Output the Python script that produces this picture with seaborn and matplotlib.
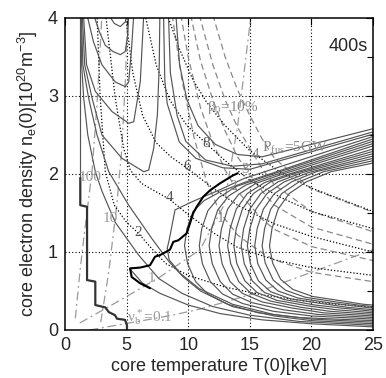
import matplotlib
matplotlib.use("Agg")
import matplotlib.pyplot as plt
from matplotlib.ticker import MultipleLocator
import seaborn as sns

# ---- operating path (thick black) -------------------------------------------
path_a_T = [1.24, 1.24, 1.79, 1.79, 2.46, 2.46, 3.27, 3.55, 4.06, 4.22, 4.87, 5.03, 5.03]
path_a_n = [1.95, 1.60, 1.58, 0.64, 0.62, 0.32, 0.29, 0.23, 0.19, 0.145, 0.13, 0.06, 0.0]
path_b_T = [6.90, 6.09, 5.41, 5.28, 6.09, 6.90, 7.31, 7.71, 8.52, 8.79, 9.20, 9.88,
            10.15, 10.41, 10.69, 11.23, 11.77, 12.58, 13.61, 14.02]
path_b_n = [0.535, 0.60, 0.68, 0.79, 0.80, 0.83, 0.94, 0.96, 1.03, 1.13, 1.15, 1.24,
            1.37, 1.50, 1.58, 1.71, 1.79, 1.88, 1.98, 2.01]

# ---- P_aux contours (solid grey) ---------------------------------------------
paux_valley = [  # low-T valley, open at the top
    ([3.55, 4.0, 4.49, 4.89, 5.03], [4.04, 3.93, 3.89, 3.95, 4.04]),
    ([2.33, 2.8, 3.27, 3.9, 4.49, 4.89, 5.1, 5.17], [4.04, 3.82, 3.65, 3.57, 3.53, 3.57, 3.8, 4.04]),
    ([1.79, 2.3, 3.0, 4.08, 4.89, 5.17, 5.4, 5.58], [4.04, 3.7, 3.40, 3.18, 3.12, 3.18, 3.6, 4.04]),
    ([1.5, 1.75, 2.46, 3.82, 5.17, 5.58, 6.11, 6.39], [4.04, 3.40, 3.06, 2.80, 2.65, 2.67, 3.18, 4.04]),
    ([1.4, 1.6, 2.2, 3.0, 4.63, 6.39, 6.79, 7.2, 7.5, 7.65, 7.7],
     [4.04, 3.4, 2.97, 2.50, 2.20, 2.03, 2.05, 2.33, 2.76, 3.4, 4.04]),
    ([1.24, 1.24], [4.04, 1.95]),
]
paux_upper = [  # come down from the top and run into the upper bundle
    ([8.0, 8.1, 8.3, 9.28, 10.63, 12.8, 15.0, 25.0], [4.04, 3.2, 2.9, 2.41, 2.2, 2.08, 2.06, 2.51]),
    ([8.4, 8.55, 9.1, 9.8, 11.4, 13.6, 16.0, 25.0], [4.04, 3.3, 2.75, 2.42, 2.18, 2.1, 2.13, 2.54]),
    ([9.0, 9.3, 9.9, 10.8, 12.2, 14.0, 16.0, 25.0], [4.04, 3.4, 2.95, 2.62, 2.38, 2.25, 2.22, 2.58]),
]
paux_lower = [  # come down the left side and run into the lower bundle
    ([1.28, 1.35, 1.52, 1.85, 2.46, 3.0, 4.08, 5.98, 7.61, 9.5, 12.0, 15.0, 19.0, 25.0],
     [4.04, 3.4, 2.97, 2.5, 2.03, 1.78, 1.38, 0.96, 0.66, 0.47, 0.30, 0.19, 0.11, 0.06]),
    ([1.33, 1.45, 1.92, 2.6, 3.55, 5.17, 7.06, 8.42, 9.6, 11.0, 13.6, 17.0, 20.0, 25.0],
     [4.04, 3.4, 2.97, 2.5, 2.03, 1.6, 1.17, 0.88, 0.68, 0.5, 0.30, 0.18, 0.12, 0.08]),
    ([5.28, 6.3, 7.71, 10.0, 12.6, 16.0, 20.0, 25.0], [0.78, 0.6, 0.47, 0.32, 0.21, 0.13, 0.08, 0.04]),
]
paux_c = [  # C-shaped contours opening to high T
    ([25, 17.0, 14.5, 12.6, 10.4, 8.93, 8.66, 8.45, 8.3, 8.45, 9.4, 10.9, 13.6, 16.9, 20.0, 25],
     [2.48, 2.07, 1.94, 1.8, 1.65, 1.54, 1.32, 1.15, 1.05, 0.9, 0.72, 0.53, 0.33, 0.2, 0.14, 0.10]),
    ([25, 17.0, 14.7, 12.7, 11.3, 10.4, 9.9, 9.7, 9.95, 10.6, 11.6, 13.2, 15.7, 19.0, 25],
     [2.45, 2.02, 1.9, 1.78, 1.66, 1.52, 1.3, 1.08, 0.85, 0.62, 0.46, 0.33, 0.22, 0.16, 0.12]),
    ([25, 15.9, 13.9, 12.5, 11.6, 11.1, 10.9, 11.15, 11.8, 12.8, 14.4, 16.9, 20.0, 25],
     [2.42, 1.95, 1.84, 1.7, 1.53, 1.3, 1.08, 0.85, 0.62, 0.46, 0.34, 0.24, 0.18, 0.14]),
    ([25, 16.7, 14.7, 13.3, 12.4, 11.9, 11.7, 11.95, 12.6, 13.6, 15.2, 17.7, 20.5, 25],
     [2.39, 1.97, 1.86, 1.72, 1.54, 1.3, 1.08, 0.85, 0.62, 0.46, 0.35, 0.26, 0.2, 0.16]),
    ([25, 17.5, 15.5, 14.1, 13.2, 12.7, 12.5, 12.75, 13.4, 14.4, 16.0, 18.5, 21.0, 25],
     [2.36, 1.99, 1.88, 1.74, 1.55, 1.3, 1.08, 0.85, 0.62, 0.47, 0.36, 0.28, 0.22, 0.18]),
    ([25, 18.2, 16.2, 14.8, 13.9, 13.4, 13.2, 13.45, 14.1, 15.1, 16.7, 19.2, 21.5, 25],
     [2.32, 2.0, 1.89, 1.75, 1.55, 1.3, 1.08, 0.85, 0.62, 0.47, 0.37, 0.29, 0.24, 0.20]),
    ([25, 18.7, 16.7, 15.3, 14.4, 13.9, 13.7, 13.95, 14.6, 15.6, 17.2, 19.7, 22.0, 25],
     [2.29, 2.01, 1.9, 1.75, 1.55, 1.3, 1.08, 0.85, 0.63, 0.48, 0.38, 0.31, 0.26, 0.22]),
    ([25, 19.3, 17.3, 15.9, 15.0, 14.5, 14.3, 14.55, 15.2, 16.2, 17.8, 20.3, 22.5, 25],
     [2.26, 2.02, 1.9, 1.75, 1.55, 1.3, 1.08, 0.85, 0.63, 0.48, 0.39, 0.32, 0.28, 0.24]),
    ([25, 19.8, 17.8, 16.4, 15.5, 15.0, 14.8, 15.05, 15.7, 16.7, 18.3, 20.8, 23.0, 25],
     [2.23, 2.02, 1.9, 1.75, 1.55, 1.3, 1.08, 0.85, 0.63, 0.49, 0.4, 0.34, 0.29, 0.26]),
    ([25, 20.4, 18.4, 17.0, 16.1, 15.6, 15.4, 15.65, 16.3, 17.3, 18.9, 21.4, 23.4, 25],
     [2.20, 2.03, 1.9, 1.75, 1.55, 1.3, 1.08, 0.85, 0.64, 0.5, 0.41, 0.35, 0.31, 0.28]),
    ([25, 21.0, 19.0, 17.6, 16.7, 16.2, 16.0, 16.25, 16.9, 17.9, 19.5, 22.0, 23.8, 25],
     [2.17, 2.03, 1.9, 1.75, 1.55, 1.3, 1.08, 0.86, 0.64, 0.51, 0.42, 0.36, 0.32, 0.30]),
    ([25, 21.6, 19.6, 18.2, 17.3, 16.8, 16.6, 16.85, 17.5, 18.5, 20.1, 22.6, 24.2, 25],
     [2.14, 2.03, 1.9, 1.75, 1.55, 1.3, 1.08, 0.86, 0.65, 0.52, 0.43, 0.37, 0.33, 0.32]),
]

# ---- beta contours (black dotted), beta0 = 2, 4, 6, 8, 10 % ------------------
beta_levels = ["2", "4", "6", "8", "10"]
beta_curves = [
    ([2.6, 2.85, 3.27, 4.0, 5.0, 5.9, 7.0, 8.2, 10.0, 13.0, 16.0, 20.0, 25.0],
     [4.04, 3.0, 2.03, 1.6, 1.38, 1.25, 1.05, 0.85, 0.7, 0.55, 0.45, 0.36, 0.29]),
    ([3.3, 4.08, 4.76, 5.3, 6.2, 7.3, 8.45, 10.0, 12.0, 14.0, 17.0, 20.0, 25.0],
     [4.04, 2.97, 2.33, 2.05, 1.88, 1.78, 1.68, 1.48, 1.25, 1.06, 0.9, 0.8, 0.7]),
    ([4.9, 5.5, 6.3, 7.4, 8.6, 9.95, 12.0, 14.0, 17.0, 20.0, 25.0],
     [4.04, 3.3, 2.75, 2.4, 2.22, 2.07, 1.82, 1.6, 1.36, 1.2, 1.0]),
    ([6.5, 7.4, 8.5, 9.9, 11.4, 13.0, 15.0, 17.5, 20.0, 25.0],
     [4.04, 3.4, 2.95, 2.62, 2.4, 2.17, 1.92, 1.7, 1.52, 1.3]),
    ([8.3, 9.3, 10.4, 11.5, 13.0, 15.0, 17.5, 20.0, 25.0],
     [4.04, 3.6, 3.2, 2.92, 2.62, 2.3, 2.02, 1.82, 1.52]),
]

# ---- fusion power contours (grey dashed), 1..5 GW ---------------------------
pfus_curves = [
    ([8.7, 9.5, 10.5, 11.5, 12.6, 14.0, 15.0, 16.0, 17.0, 20.0, 25.0],
     [4.04, 3.2, 2.45, 1.9, 1.5, 1.22, 1.1, 0.99, 0.9, 0.74, 0.62]),
    ([9.4, 10.0, 11.0, 12.0, 13.0, 14.0, 15.0, 16.0, 17.0, 20.0, 25.0],
     [4.04, 3.5, 2.85, 2.4, 2.05, 1.78, 1.6, 1.42, 1.29, 1.07, 0.89]),
    ([10.2, 11.0, 12.0, 13.0, 14.0, 15.0, 16.0, 17.0, 20.0, 25.0],
     [4.04, 3.45, 2.95, 2.55, 2.22, 1.99, 1.78, 1.6, 1.32, 1.1]),
    ([10.9, 12.0, 13.0, 14.0, 15.0, 16.0, 17.0, 20.0, 25.0],
     [4.04, 3.4, 2.95, 2.6, 2.33, 2.07, 1.86, 1.52, 1.26]),
    ([12.0, 13.0, 14.0, 15.0, 16.0, 17.0, 20.0, 25.0],
     [4.04, 3.5, 3.08, 2.75, 2.45, 2.2, 1.81, 1.51]),
]

# ---- collisionality contours (grey dash-dot), nu* = 100, 10, 1, 0.1 --------
nu_curves = [
    ([0.84, 1.24, 1.52, 2.19, 2.6, 3.0], [0.15, 0.79, 1.17, 2.03, 2.9, 4.04]),
    ([2.9, 3.55, 4.2, 4.6, 4.9, 5.1], [0.1, 0.74, 1.6, 2.3, 3.2, 4.04]),
    ([1.2, 4.46, 7.71, 10.96, 12.9, 14.0, 15.1], [0.09, 0.38, 0.68, 1.03, 1.6, 2.6, 4.04]),
    ([2.0, 4.5, 7.0, 9.0, 11.0, 15.0, 20.0, 25.0], [0.0, 0.07, 0.14, 0.2, 0.27, 0.45, 0.74, 1.03]),
]

# ---- text labels --------------------------------------------------------------
beta_label_pos = [(5.9, 1.25), (8.45, 1.7), (9.95, 2.09), (11.45, 2.39)]
pfus_label_pos = [(12.6, 1.43), (13.65, 1.84), (14.6, 2.06), (15.45, 2.25)]
nu_label_txt = ["100", "10", "1"]
nu_label_pos = [(2.05, 1.96), (3.7, 1.43), (7.06, 0.66)]

sns.set_theme(style="white")
plt.rcParams["font.family"] = ["Liberation Sans", "DejaVu Sans"]
plt.rcParams["mathtext.default"] = "regular"

fig = plt.figure(figsize=(3.86, 3.78), dpi=100)
ax = fig.add_axes([65 / 386, 48 / 378, 308 / 386, 312 / 378])

SOLID = "#555555"
DASH = "#8a8a8a"
DASHDOT = "#9a9a9a"


def draw(curves, color, lw, ls):
    for T, n in curves:
        sns.lineplot(x=T, y=n, sort=False, estimator=None, color=color,
                     linewidth=lw, linestyle=ls, ax=ax)


# grid first so the curves sit on top of it
for g in [5, 10, 15, 20]:
    ax.axvline(g, color="black", lw=0.8, ls=(0, (1, 2)), zorder=0.5)
for g in [1, 2, 3]:
    ax.axhline(g, color="black", lw=0.8, ls=(0, (1, 2)), zorder=0.5)

draw(nu_curves, DASHDOT, 0.9, (0, (7, 3, 1.5, 3)))
draw(pfus_curves, DASH, 0.9, (0, (5, 3)))
draw(beta_curves, "black", 0.9, (0, (1, 1.6)))
draw(paux_valley + paux_upper + paux_lower + paux_c, SOLID, 0.85, "-")
sns.lineplot(x=path_a_T, y=path_a_n, sort=False, estimator=None, color="#333333", lw=1.6, ax=ax)
sns.lineplot(x=path_b_T, y=path_b_n, sort=False, estimator=None, color="black", lw=1.5, ax=ax)

serif = dict(family=["Liberation Serif", "DejaVu Serif"], fontsize=11)
for lab, (x, y) in zip(beta_levels, beta_label_pos):
    ax.text(x, y, lab, color="#555555", ha="center", va="center", **serif)
ax.text(13.6, 2.85, r"$\beta_0$=10%", color="#8a8a8a", ha="center", va="center", **serif)
for k, (x, y) in enumerate(pfus_label_pos):
    ax.text(x, y, str(k + 1), color="#8a8a8a", ha="center", va="center", **serif)
ax.text(16.0, 2.34, r"$P_{fus}$=5GW", color="#8a8a8a", ha="left", va="center", **serif)
for lab, (x, y) in zip(nu_label_txt, nu_label_pos):
    ax.text(x, y, lab, color="#9a9a9a", ha="center", va="center", **serif)
ax.text(5.0, 0.17, r"$\nu^*_b$=0.1", color="#9a9a9a", ha="left", va="center", **serif)
ax.text(24.6, 3.63, "400s", ha="right", va="center", fontsize=13)

ax.set_xlim(0, 25)
ax.set_ylim(0, 4)
ax.xaxis.set_major_locator(MultipleLocator(5))
ax.yaxis.set_major_locator(MultipleLocator(1))
ax.yaxis.set_minor_locator(MultipleLocator(0.5))
ax.tick_params(which="both", direction="in", top=True, right=True, labelsize=13,
               color="black", width=0.8, pad=5)
ax.tick_params(which="major", length=5)
ax.tick_params(which="minor", length=4)
for s in ax.spines.values():
    s.set_color("black")
    s.set_linewidth(1.1)
ax.set_xlabel("core temperature T(0)[keV]", fontsize=13, labelpad=3)
ax.set_ylabel(r"core electron density n$_e$(0)[10$^{20}$m$^{-3}$]", fontsize=13, labelpad=6)

fig.savefig("out.png", dpi=100)
